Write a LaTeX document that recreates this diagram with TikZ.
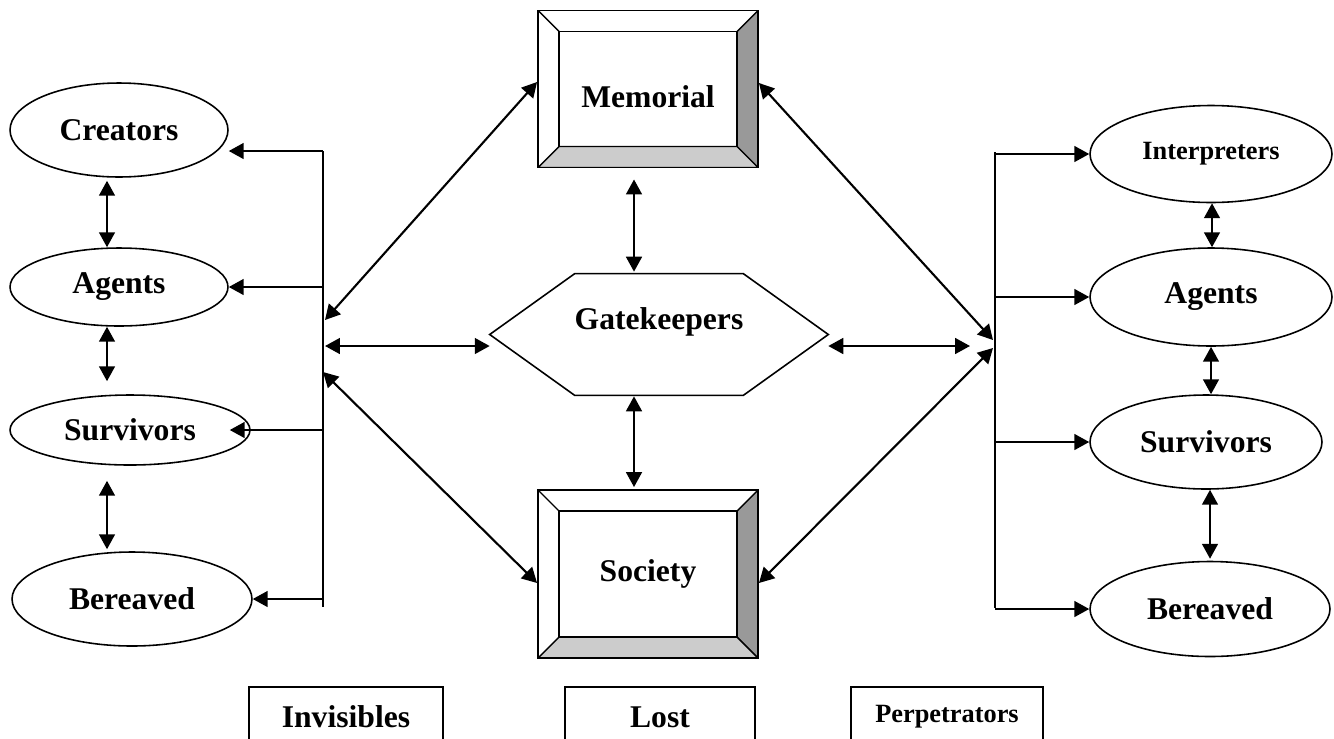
\documentclass[tikz,border=0pt]{standalone}
\usepackage{fontspec}
\setmainfont{Liberation Serif}
\usetikzlibrary{positioning, arrows.meta, calc, shapes.geometric}
\definecolor{bevdark}{HTML}{999999}
\definecolor{bevlight}{HTML}{CCCCCC}
\newcommand{\lblfont}{\fontsize{18}{21}\selectfont\bfseries}
\newcommand{\smlfont}{\fontsize{15}{18}\selectfont\bfseries}
\tikzset{
  actor/.style={draw, ellipse, line width=0.9pt, inner sep=0pt, font=\lblfont},
  tag/.style={draw, line width=1.1pt, inner sep=0pt, minimum height=1.2cm, font=\lblfont},
  gate/.style={inner sep=0pt, minimum width=6.76cm, minimum height=2.42cm},
  bevel/.style={draw, line width=1.1pt, minimum width=4.4cm, font=\lblfont,
    path picture={
      \coordinate (bsw) at (path picture bounding box.south west);
      \coordinate (bne) at (path picture bounding box.north east);
      \coordinate (bse) at (path picture bounding box.south east);
      \coordinate (bnw) at (path picture bounding box.north west);
      \filldraw[fill=bevdark, line width=0.8pt] (bne) -- (bse) -- ($(bse)+(-.42cm,.42cm)$) -- ($(bne)+(-.42cm,-.42cm)$) -- cycle;
      \filldraw[fill=bevlight, line width=0.8pt] (bsw) -- (bse) -- ($(bse)+(-.42cm,.42cm)$) -- ($(bsw)+(.42cm,.42cm)$) -- cycle;
      \draw[line width=0.8pt] (bnw) -- ($(bnw)+(.42cm,-.42cm)$);
      \draw[line width=0.8pt] ($(bsw)+(.42cm,.42cm)$) rectangle ($(bne)+(-.42cm,-.42cm)$);
    }},
  flow/.style={-{Triangle[length=8.5pt, width=9pt]}, line width=1.2pt},
  dflow/.style={{Triangle[length=8.5pt, width=9pt]}-{Triangle[length=8.5pt, width=9pt]}, line width=1.2pt},
  bus/.style={line width=1.2pt},
}
\begin{document}
\begin{tikzpicture}[x=0.02cm, y=-0.02cm]
  \useasboundingbox (0,0) rectangle (1334,738);
  % centre column
  \node[bevel, minimum height=3.14cm, text height=.76cm] (mem) at (648,89) {Memorial};
  \node[bevel, minimum height=3.36cm] (soc) at (648,574) {Society};
  \node[gate, label={[font=\lblfont, yshift=.25cm]center:Gatekeepers}] (gk) at (659,334.5) {};
  \draw[line width=0.9pt] (gk.west) -- ([xshift=1.7cm]gk.north west) -- ([xshift=-1.7cm]gk.north east)
    -- (gk.east) -- ([xshift=-1.7cm]gk.south east) -- ([xshift=1.7cm]gk.south west) -- cycle;
  % left column
  \node[actor, minimum width=4.36cm, minimum height=1.88cm] (lc) at (119,130) {Creators};
  \node[actor, minimum width=4.36cm, minimum height=1.56cm] (la) at (119,287) {Agents};
  \node[actor, minimum width=4.8cm, minimum height=1.4cm] (lsv) at (130,430) {Survivors};
  \node[actor, minimum width=4.8cm, minimum height=1.88cm] (lb) at (132,599) {Bereaved};
  % right column
  \node[actor, font=\smlfont, minimum width=4.84cm, minimum height=1.94cm] (ri) at (1211,154) {Interpreters};
  \node[actor, minimum width=4.84cm, minimum height=1.96cm] (ra) at (1211,297) {Agents};
  \node[actor, minimum width=4.64cm, minimum height=1.88cm] (rsv) at (1206,442) {Survivors};
  \node[actor, minimum width=4.8cm, minimum height=1.9cm] (rb) at (1210,609) {Bereaved};
  % bottom row
  \node[tag, minimum width=3.88cm] (inv) at (346,717) {Invisibles};
  \node[tag, minimum width=3.8cm] (lost) at (660,717) {Lost};
  \node[tag, font=\smlfont, minimum width=3.84cm] (perp) at (947,717) {Perpetrators};
  % buses
  \coordinate (lbt) at (323,151);
  \coordinate (lbb) at (323,607);
  \coordinate (rbt) at (995,152);
  \coordinate (rbb) at (995,608);
  \draw[bus] (lbt) -- (lbb);
  \draw[bus] (rbt) -- (rbb);
  \coordinate (lm) at (325,320);
  \coordinate (lg) at (325,346);
  \coordinate (lsc) at (323,372);
  \coordinate (rm) at (993,340);
  \coordinate (rsc) at (993,348);
  \coordinate (rg) at (970,346);
  % bus to ellipses
  \draw[flow] (lbt) -- (lbt -| lc.east);
  \draw[flow] (la.east -| lbt) -- (la.east);
  \draw[flow] (lsv.east -| lbt) -- ([xshift=-.42cm]lsv.east);
  \draw[flow] (lb.east -| lbt) -- (lb.east);
  \foreach \n in {ri, ra, rsv, rb} \draw[flow] (\n.west -| rbt) -- (\n.west);
  % between ellipses
  \draw[dflow, shorten <=.06cm] ([xshift=-.24cm]lc.south) -- ([xshift=-.24cm]la.north);
  \draw[dflow, shorten >=.26cm] ([xshift=-.24cm]la.south) -- ([xshift=-.24cm]la.south |- lsv.north);
  \draw[dflow, shorten <=.3cm, shorten >=.04cm] ([xshift=-.46cm]lsv.south) -- ([xshift=-.46cm]lsv.south |- lb.north);
  \draw[dflow] ([xshift=.02cm]ri.south) -- ([xshift=.02cm]ri.south |- ra.north);
  \draw[dflow] (ra.south) -- (ra.south |- rsv.north);
  \draw[dflow, shorten >=.04cm] (rb.north |- rsv.south) -- (rb.north);
  % centre links
  \draw[dflow, shorten <=.22cm, shorten >=.04cm] ([xshift=-.28cm]mem.south) -- ([xshift=-.28cm]mem.south |- gk.north);
  \draw[dflow, shorten <=.02cm, shorten >=.04cm] ([xshift=-.28cm]soc.north |- gk.south) -- ([xshift=-.28cm]soc.north);
  \draw[dflow] ([yshift=.14cm]mem.west) -- (lm);
  \draw[dflow] (lg) -- (lg -| gk.west);
  \draw[dflow] ([yshift=-.18cm]soc.west) -- (lsc);
  \draw[dflow] ([yshift=.12cm]mem.east) -- (rm);
  \draw[dflow] (gk.east |- rg) -- (rg);
  \draw[dflow] ([yshift=-.18cm]soc.east) -- (rsc);
\end{tikzpicture}
\end{document}
